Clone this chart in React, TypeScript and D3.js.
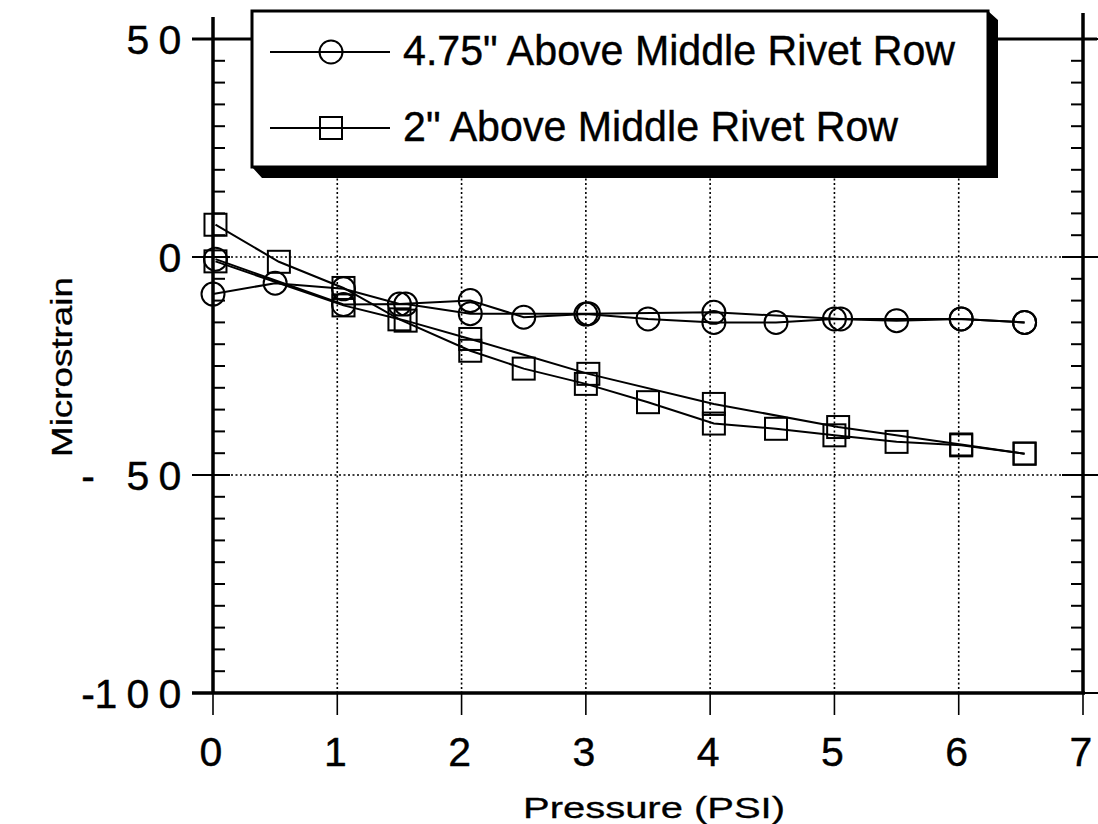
import React from "react";
import * as d3 from "d3";

// ---- data ----
const xTickValues = [0, 1, 2, 3, 4, 5, 6, 7];
const yMajorTicks = [50, 0, -50, -100];
const xTitle = "Pressure  (PSI)";
const yTitle = "Microstrain";
const legendLabels = ['4.75" Above Middle Rivet Row', '2" Above Middle Rivet Row'];

// 4.75" series (circles): loading run and unloading run
const circleLoadX = [0, 0.5, 1.05, 1.5, 2.07, 2.5, 3.0, 3.5, 4.03, 4.53, 5.0, 5.5, 6.02, 6.53];
const circleLoadY = [-8.5, -6.0, -7.3, -10.8, -10.0, -13.8, -13.1, -14.2, -15.0, -15.0, -14.2, -14.6, -14.2, -15.0];
const circleUnloadX = [6.53, 6.02, 5.05, 4.03, 3.02, 2.07, 1.55, 1.05, 0.02];
const circleUnloadY = [-15.0, -14.2, -14.2, -12.7, -13.0, -13.0, -10.8, -10.9, -0.5];

// 2" series (squares)
const squareLoadX = [0.02, 0.53, 1.05, 1.5, 2.07, 2.5, 3.0, 3.5, 4.03, 4.53, 5.0, 5.5, 6.02, 6.53];
const squareLoadY = [7.4, -1.1, -7.1, -14.3, -21.5, -25.6, -29.1, -33.3, -38.2, -39.4, -40.9, -42.4, -43.2, -45.1];
const squareUnloadX = [6.53, 6.02, 5.03, 4.03, 3.02, 2.07, 1.55, 1.05, 0.02];
const squareUnloadY = [-45.1, -43.0, -39.0, -33.7, -26.8, -18.8, -14.6, -11.1, -1.0];

const W = 1098;
const H = 824;
const FONT = "'Liberation Sans', Arial, Helvetica, sans-serif";

const x = d3.scaleLinear().domain([0, 7]).range([213, 1083]);
const y = d3.scaleLinear().domain([-100, 50]).range([693, 39]);

const zip = (xs: number[], ys: number[]) => xs.map((v, i) => [v, ys[i]] as [number, number]);
const line = d3
  .line<[number, number]>()
  .x((d) => x(d[0]))
  .y((d) => y(d[1]));

const minorTicks = d3.range(-100, 50.001, 5).filter((v) => v % 50 !== 0);

function Circle({ cx, cy }: { cx: number; cy: number }) {
  return <circle cx={cx} cy={cy} r={11.5} fill="none" stroke="#000" strokeWidth={2} />;
}
function Square({ cx, cy }: { cx: number; cy: number }) {
  const s = 22;
  return <rect x={cx - s / 2} y={cy - s / 2} width={s} height={s} fill="none" stroke="#000" strokeWidth={2} />;
}

const TICK_FS = 41;

function YLabel({ v }: { v: number }) {
  const yy = y(v) + 15;
  const digits = String(Math.abs(v));
  const digitAdv = 32;
  const right = 182;
  const items: React.ReactNode[] = [];
  for (let i = 0; i < digits.length; i++) {
    const cx = right - 12 - (digits.length - 1 - i) * digitAdv;
    items.push(
      <text key={i} x={cx} y={yy} textAnchor="middle" fontSize={TICK_FS} fontFamily={FONT} stroke="#000" strokeWidth={0.4}>
        {digits[i]}
      </text>
    );
  }
  if (v < 0) {
    items.push(
      <text key="m" x={88} y={yy} textAnchor="middle" fontSize={TICK_FS} fontFamily={FONT} stroke="#000" strokeWidth={0.4}>
        -
      </text>
    );
  }
  return <g>{items}</g>;
}

export default function App() {
  const circles = [...zip(circleLoadX, circleLoadY), ...zip(circleUnloadX, circleUnloadY)];
  const squares = [...zip(squareLoadX, squareLoadY), ...zip(squareUnloadX, squareUnloadY)];
  const lgX1 = 270;
  const lgX2 = 390;
  const lgMark = 331;
  const lgY = [52, 128];
  return (
    <svg width={W} height={H} style={{ position: "absolute", left: 0, top: 0, background: "#fff" }}>
      <rect x={0} y={0} width={W} height={H} fill="#fff" />
      {/* grid */}
      {xTickValues
        .filter((v) => v > 0 && v < 7)
        .map((v) => (
          <line key={"gx" + v} x1={x(v)} x2={x(v)} y1={y(50)} y2={y(-100)} stroke="#000" strokeWidth={1.6} strokeDasharray="2,2.5" />
        ))}
      {[0, -50].map((v) => (
        <line key={"gy" + v} x1={x(0)} x2={x(7)} y1={y(v)} y2={y(v)} stroke="#000" strokeWidth={1.6} strokeDasharray="2,2.5" />
      ))}

      {/* data lines */}
      {[zip(circleLoadX, circleLoadY), zip(circleUnloadX, circleUnloadY), zip(squareLoadX, squareLoadY), zip(squareUnloadX, squareUnloadY)].map((d, i) => (
        <path key={"l" + i} d={line(d) || ""} fill="none" stroke="#000" strokeWidth={2} />
      ))}
      {circles.map((d, i) => (
        <Circle key={"c" + i} cx={x(d[0])} cy={y(d[1])} />
      ))}
      {squares.map((d, i) => (
        <Square key={"s" + i} cx={x(d[0])} cy={y(d[1])} />
      ))}

      {/* axes frame */}
      <line x1={x(0)} x2={x(0)} y1={17} y2={y(-100)} stroke="#000" strokeWidth={3.5} />
      <line x1={x(7)} x2={x(7)} y1={13} y2={y(-100)} stroke="#000" strokeWidth={3.5} />
      <line x1={192} x2={1097} y1={y(50)} y2={y(50)} stroke="#000" strokeWidth={3} />
      <line x1={192} x2={x(7) + 2} y1={y(-100)} y2={y(-100)} stroke="#000" strokeWidth={3.5} />
      {yMajorTicks.map((v) => (
        <g key={"mj" + v}>
          <line x1={192} x2={230} y1={y(v)} y2={y(v)} stroke="#000" strokeWidth={2} />
          <line x1={1062} x2={1098} y1={y(v)} y2={y(v)} stroke="#000" strokeWidth={2} />
        </g>
      ))}
      {minorTicks.map((v) => (
        <g key={"mn" + v}>
          <line x1={x(0)} x2={x(0) + 12} y1={y(v)} y2={y(v)} stroke="#000" strokeWidth={2} />
          <line x1={x(7) - 12} x2={x(7)} y1={y(v)} y2={y(v)} stroke="#000" strokeWidth={2} />
        </g>
      ))}
      {xTickValues.map((v) => (
        <g key={"xt" + v}>
          <line x1={x(v)} x2={x(v)} y1={y(-100)} y2={y(-100) + 22} stroke="#000" strokeWidth={1.6} />
          <line x1={x(v)} x2={x(v)} y1={y(50) - 22} y2={y(50)} stroke="#000" strokeWidth={1.6} />
        </g>
      ))}

      {/* tick labels */}
      {xTickValues.map((v) => (
        <text key={"xl" + v} x={x(v) - 2} y={766} textAnchor="middle" fontSize={TICK_FS} fontFamily={FONT} stroke="#000" strokeWidth={0.4}>
          {v}
        </text>
      ))}
      {yMajorTicks.map((v) => (
        <YLabel key={"yl" + v} v={v} />
      ))}

      {/* axis titles */}
      <text x={523} y={818} fontSize={30} fontFamily={FONT} textLength={262} lengthAdjust="spacingAndGlyphs" stroke="#000" strokeWidth={0.3}>
        {xTitle}
      </text>
      <text
        transform={`translate(72,367) rotate(-90)`}
        x={0}
        y={0}
        textAnchor="middle"
        fontSize={30}
        fontFamily={FONT}
        textLength={180}
        lengthAdjust="spacingAndGlyphs"
        stroke="#000"
        strokeWidth={0.3}
      >
        {yTitle}
      </text>

      {/* legend */}
      <polygon points="252,167 262,178 998,178 998,20 988,11 988,167" fill="#000" />
      <rect x={252} y={11} width={736} height={156} fill="#fff" stroke="#000" strokeWidth={3} />
      {lgY.map((ly, i) => (
        <g key={"lg" + i}>
          <line x1={lgX1} x2={lgX2} y1={ly} y2={ly} stroke="#000" strokeWidth={1.8} />
          {i === 0 ? <Circle cx={lgMark} cy={ly} /> : <Square cx={lgMark} cy={ly} />}
          <text
            x={403}
            y={ly + 13}
            fontSize={42}
            fontFamily={FONT}
            textLength={i === 0 ? 552 : 495}
            lengthAdjust="spacingAndGlyphs"
            stroke="#000"
            strokeWidth={0.4}
          >
            {legendLabels[i]}
          </text>
        </g>
      ))}
    </svg>
  );
}
